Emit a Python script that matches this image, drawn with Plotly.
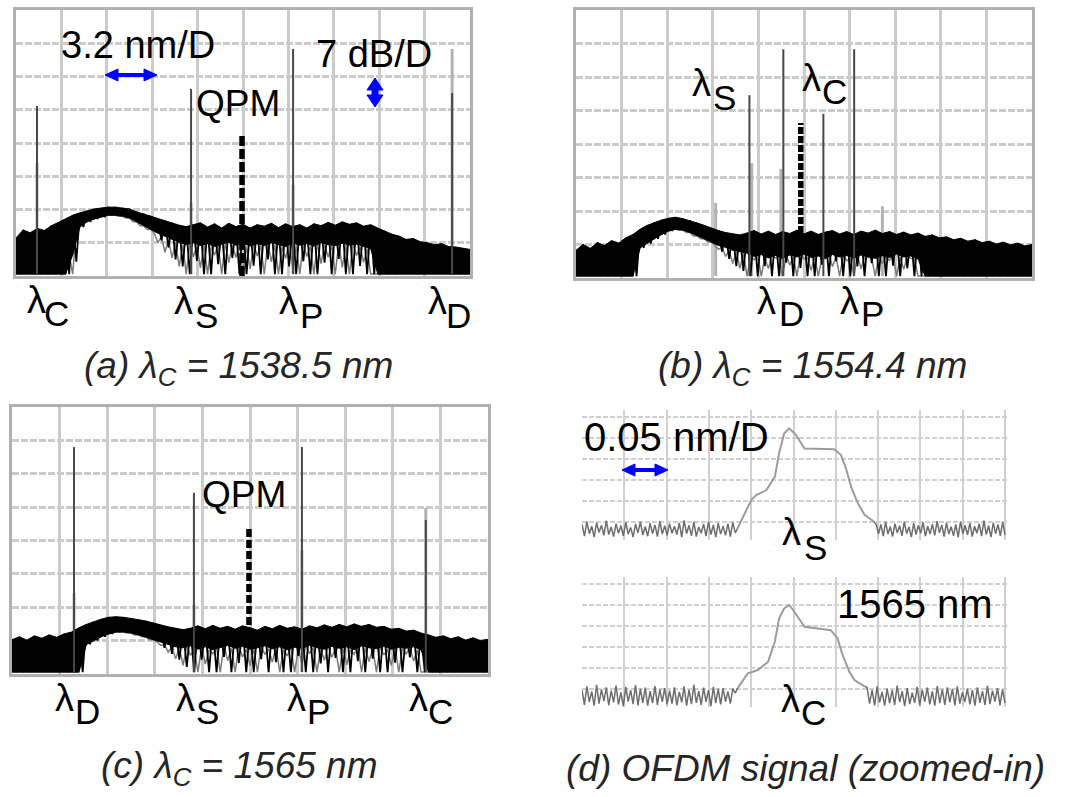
import numpy as np
import plotly.graph_objects as go

W, H = 1069, 797
FONT = "Liberation Sans, Arial, Helvetica, sans-serif"

# ---------------- wide-span OSA traces: 3.2 nm/div, 7 dB/div ----------------
WL_RANGE = [1537.0, 1569.0]
DB_RANGE = [-70.0, -14.0]
F = -69.6  # displayed noise floor (dBm)

# trace sampling positions (0.5 nm)
wl = np.linspace(1537.0, 1569.0, 65)

# (a) lambda_C = 1538.5 nm : upper edge / solid lower edge / dip depth of the ASE band
a_top = [-62.0, -60.3, -60.9, -60.0, -60.4, -59.4, -58.7, -58.0, -57.2, -56.7,
         -56.3, -55.9, -55.7, -55.5, -55.5, -55.7, -55.9, -56.5, -56.9, -57.4,
         -57.9, -58.4, -58.8, -59.3, -59.6, -59.2, -58.8, -59.7, -59.0, -59.9,
         -58.9, -59.6, -59.1, -59.9, -59.2, -59.5, -58.9, -59.8, -59.0, -59.6,
         -59.2, -59.9, -59.0, -59.4, -58.7, -59.3, -58.6, -59.1, -58.8, -59.5,
         -59.2, -59.9, -60.5, -61.2, -61.6, -62.3, -62.1, -62.8, -63.0, -63.4,
         -63.2, -63.8, -63.9, -64.2, -64.4]
a_low = [F] * 8 + [-65.5] + \
        [-59.7, -58.6, -58.0, -57.6, -57.2, -57.2, -57.4, -57.8, -58.6, -59.4,
         -60.2, -61.0, -61.7, -62.3, -62.9] + \
        [-63.4, -63.0, -63.6, -63.2, -63.8, -63.3, -62.9, -63.5, -63.1, -63.7,
         -63.2, -63.6, -63.0, -63.4, -63.8, -63.1, -63.5, -63.2, -63.7, -63.0,
         -63.4, -63.6, -63.1, -63.5, -63.3, -63.8, -64.2] + [F] * 14
a_dip = [F] * 8 + [-67.0] + \
        [-59.7, -58.6, -58.0, -57.6, -57.2, -57.2, -57.4, -57.8, -58.6, -59.4, -60.2] + \
        [-62.5, -64.0, -66.5, -68.0] + \
        [F, -66.8, F, F, -67.5, F, -66.2, F, F, -67.8, F, -66.5, F, F, -68.0,
         F, -66.9, F, F, -67.2, F, -66.4, F, F, -67.9, F, F] + [F] * 14
# second (light) sweep: trough depth at each sample
a_gray = [F] * 9 + \
         [-59.7, -58.6, -58.0, -57.6, -57.2, -57.2, -57.4, -57.8, -58.6, -59.4, -60.2] + \
         [-63.0, -65.0, -66.2, -68.0] + \
         [F, -66.0, -68.3, F, -65.6, F, -67.2, -66.1, F, -68.5, -65.8, F, -67.0, F,
          -66.3, -68.1, F, -65.9, F, -67.4, -66.0, F, -68.2, F, -65.7, -67.1, F] + [F] * 14
a_peak_wl = [1538.48, 1549.34, 1556.53, 1567.74]
a_peak_dark = [-34.2, -30.6, -22.2, -31.5]
a_peak_light = [-46.2, -54.6, -50.8, -22.2]

# (b) lambda_C = 1554.4 nm
b_top = [-64.2, -63.0, -63.8, -62.6, -63.2, -62.2, -62.7, -61.6, -60.9, -59.8,
         -59.0, -58.4, -57.9, -57.5, -57.3, -57.6, -58.0, -58.5, -59.0, -59.6,
         -60.1, -60.5, -60.8, -61.0, -60.6, -60.1, -60.8, -60.2, -60.9, -60.3,
         -60.7, -60.0, -60.8, -60.2, -60.9, -60.4, -60.1, -60.8, -60.3, -60.9,
         -60.2, -60.6, -60.0, -60.7, -60.3, -60.9, -60.4, -61.0, -60.6, -61.3,
         -61.0, -61.6, -61.4, -62.0, -61.7, -62.3, -62.0, -62.6, -62.3, -62.9,
         -62.5, -63.1, -62.7, -63.3, -63.0]
b_low = [F] * 9 + \
        [-63.7, -62.8, -61.8, -60.9, -60.2, -59.8, -60.0, -60.5, -61.2, -61.8,
         -62.5, -63.2, -63.6, -64.2, -64.5, -64.8] + \
        [-65.5, -65.1, -65.8, -65.3, -65.9, -65.2, -65.6, -65.0, -65.7, -65.4,
         -65.9, -65.1, -65.6, -65.3, -65.8, -65.2, -65.5, -65.9, -65.3, -65.7,
         -65.0, -65.6, -65.4, -66.0] + [F] * 16
b_dip = [F] * 9 + \
        [-63.7, -62.8, -61.8, -60.9, -60.2, -59.8, -60.0, -60.5, -61.2, -61.8, -62.5] + \
        [-64.5, -66.0, -67.5, -68.5, F] + \
        [F, -67.5, F, F, -66.8, F, -67.9, F, F, -67.2, F, -66.5, F, F, -67.6,
         F, -66.9, F, F, -67.4, F, -68.0, F, F] + [F] * 16
b_gray = [F] * 9 + \
         [-63.7, -62.8, -61.8, -60.9, -60.2, -59.8, -60.0, -60.5, -61.2, -61.8, -62.5] + \
         [-64.0, -65.5, -67.0, -68.0, F] + \
         [-66.2, F, -68.0, -65.8, F, -67.3, F, -66.0, -68.4, F, -65.9, -67.6, F,
          -66.4, F, -68.1, -65.7, F, -67.0, -66.3, F, -68.2, -65.9, F] + [F] * 16
b_peak_wl = [1549.17, 1551.55, 1554.36, 1556.52]
b_peak_dark = [-31.8, -22.2, -35.7, -22.2]
b_light_wl = [1546.8, 1549.33, 1551.38, 1558.5]
b_light_db = [-54.3, -46.0, -47.2, -55.0]

# (c) lambda_C = 1565 nm
c_top = [-62.8, -62.2, -62.9, -62.0, -62.5, -61.8, -62.3, -61.6, -61.2, -60.3,
         -59.6, -59.0, -58.5, -58.1, -58.0, -58.1, -58.3, -58.6, -58.9, -59.3,
         -59.8, -60.1, -60.4, -60.7, -60.4, -59.9, -60.5, -59.8, -60.4, -60.0,
         -60.6, -59.9, -60.3, -60.8, -60.0, -60.5, -59.8, -60.4, -60.1, -60.6,
         -59.9, -60.3, -59.7, -60.2, -59.6, -60.1, -59.5, -60.0, -59.6, -60.2,
         -60.0, -60.6, -60.4, -61.0, -60.8, -61.4, -61.8, -62.3, -62.0, -62.6,
         -62.2, -62.9, -62.4, -63.0, -62.7]
c_low = [F] * 10 + \
        [-63.8, -63.0, -62.2, -61.6, -61.2, -61.2, -61.4, -61.8, -62.2, -62.8,
         -63.3, -63.8, -64.3] + \
        [-64.5, -64.1, -64.8, -64.3, -64.9, -64.4, -64.0, -64.6, -64.2, -64.8,
         -64.5, -64.1, -64.7, -64.3, -64.9, -64.4, -64.6, -64.0, -64.5, -64.8,
         -64.2, -64.6, -64.3, -64.9, -64.1, -64.5, -64.7, -64.2, -64.8, -64.4,
         -64.6, -64.3, -64.9] + [F] * 9
c_dip = [F] * 10 + \
        [-63.8, -63.0, -62.2, -61.6, -61.2, -61.2, -61.4, -61.8, -62.2, -62.8] + \
        [-64.5, -65.8, -67.0, -68.5] + \
        [F, -67.0, F, F, -66.4, F, -67.7, F, F, -66.9, F, -67.5, F, F, -66.2, F,
         F, -67.8, F, -66.6, F, F, -67.3, F, -66.8, F, F, -67.6, F, -66.5, F, F] + [F] * 9
c_gray = [F] * 10 + \
         [-63.8, -63.0, -62.2, -61.6, -61.2, -61.2, -61.4, -61.8, -62.2, -62.8] + \
         [-64.0, -65.4, -66.8, -68.2] + \
         [-66.1, F, -67.9, -65.8, F, -67.2, F, -66.4, -68.3, F, -65.9, -67.5, F, -66.2,
          F, -68.0, -65.7, F, -67.1, -66.5, F, -68.1, -65.9, F, -67.4, F, -66.0, -68.2,
          F, -65.8, -67.3, F] + [F] * 9
c_peak_wl = [1541.17, 1549.23, 1556.49, 1564.82]
c_peak_dark = [-22.4, -32.0, -22.4, -37.7]
c_peak_light = [-53.0, -55.5, -44.0, -35.2]

# QPM wavelength markers: (wavelength, top, bottom)
qpm = {"a": (1552.93, -39.9, -70.0), "b": (1552.77, -37.6, -60.6), "c": (1552.93, -39.2, -59.7)}

# ---------------- zoomed OFDM spectra: 0.05 nm/div ----------------
D_DB_RANGE = [-64.3, -33.33]
ds_wl = [1549.184, 1549.200, 1549.206, 1549.218, 1549.228, 1549.233, 1549.239, 1549.245,
         1549.253, 1549.263, 1549.298, 1549.306, 1549.312, 1549.318, 1549.326, 1549.334, 1549.345]
ds_db = [-61.5, -54.8, -53.6, -52.4, -49.2, -43.6, -38.9, -37.7,
         -39.3, -42.5, -42.7, -44.0, -47.2, -51.6, -55.5, -58.3, -59.9]
ds_noise_left = [-60.6, -63.4, -59.9, -62.8, -61.0, -63.6, -60.2, -62.5, -60.8, -63.2,
                 -59.7, -63.0, -61.2, -63.5, -60.4, -62.7, -60.9, -63.3, -60.1, -62.9,
                 -61.3, -63.6, -60.5, -62.6, -60.0, -63.1, -61.1, -63.4, -60.3, -62.8,
                 -60.7, -63.5, -59.8, -62.9, -60.9, -63.2, -60.4, -62.7, -61.0, -63.0,
                 -60.2, -63.6, -59.6, -62.8, -60.8, -63.3, -60.0, -63.5, -61.2, -62.7,
                 -60.5, -63.4, -59.9, -63.0, -60.7, -63.6, -60.3, -62.9, -61.0, -63.2,
                 -60.4, -63.5, -60.1, -62.6]
ds_noise_right = [-60.6, -62.8, -60.6, -63.4, -60.0, -62.9, -61.1, -63.5, -60.4, -62.6,
                  -60.9, -63.3, -59.9, -62.8, -61.2, -63.6, -60.3, -63.0, -60.8, -62.7,
                  -60.1, -63.4, -61.0, -62.9, -60.5, -63.2, -59.8, -62.6, -60.7, -63.5,
                  -60.2, -62.9, -61.1, -63.3, -60.6, -63.6, -59.9, -62.8, -60.8, -63.1,
                  -60.3, -63.5, -61.0, -62.7, -60.4, -63.4, -59.7, -63.0, -60.9, -63.6,
                  -60.2, -62.8, -60.6, -63.3, -60.0, -63.1]
dc_wl = [1564.934, 1564.946, 1564.958, 1564.970, 1564.978, 1564.983, 1564.989, 1564.995,
         1565.001, 1565.013, 1565.044, 1565.052, 1565.058, 1565.066, 1565.072, 1565.084]
dc_db = [-59.8, -56.3, -55.5, -53.5, -48.7, -43.2, -40.8, -40.0,
         -41.6, -45.2, -46.0, -47.9, -51.9, -55.9, -57.9, -59.4]
dc_noise_left = [-60.2, -63.8, -59.4, -63.1, -60.6, -64.0, -59.0, -63.5, -60.1, -62.9,
                 -59.6, -63.9, -60.4, -63.2, -59.2, -63.7, -60.8, -64.1, -59.5, -63.0,
                 -60.3, -63.6, -59.1, -63.9, -60.0, -63.3, -59.7, -64.0, -60.5, -63.4,
                 -59.3, -63.8, -60.1, -63.1, -59.8, -63.7, -60.4, -63.5, -59.6, -63.9,
                 -60.7, -63.2, -59.4, -64.0, -60.2, -63.6, -59.0, -63.3, -60.5, -63.8,
                 -59.7, -63.1, -60.3, -64.1, -59.5, -63.4, -60.0, -63.7, -59.8, -63.0,
                 -60.6, -63.5, -59.9, -61.0]
dc_noise_right = [-59.6, -63.5, -60.2, -63.9, -59.4, -63.2, -60.7, -64.0, -59.9, -63.4,
                  -60.3, -63.8, -59.2, -63.1, -60.5, -64.1, -59.8, -63.6, -60.9, -63.3,
                  -59.5, -63.9, -60.2, -63.0, -59.7, -63.7, -60.6, -64.0, -59.3, -63.4,
                  -60.1, -63.8, -59.6, -63.2, -60.0, -63.9, -59.4, -63.5, -60.8, -63.1,
                  -59.9, -63.7, -60.3, -64.0, -59.6, -63.3, -60.5, -63.8, -59.2, -63.6,
                  -60.4, -63.0, -59.8, -63.9, -60.1, -63.4]

# ---------------- layout helpers ----------------
def px(x):
    return x / W


def py(y):
    return 1 - y / H


fig = go.Figure()

DARK = "#484848"
LIGHT = "#b2b2b2"


def refs(ax):
    return ("x", "y") if ax == 1 else (f"x{ax}", f"y{ax}")


def add_osa(ax, top, low, dip, gray, peak_x, dark_top, light_x, light_top):
    xa, ya = refs(ax)
    half = (wl[1] - wl[0]) / 2
    # second sweep (light grey): peaks and noise troughs
    lx, ly = [], []
    for p, t in zip(light_x, light_top):
        lx += [p, p, None]
        ly += [F, t, None]
    fig.add_trace(go.Scatter(x=lx, y=ly, mode="lines", line=dict(color=LIGHT, width=3),
                             xaxis=xa, yaxis=ya, hoverinfo="skip"))
    gx, gy = [], []
    for i in range(len(wl)):
        if i > 0:
            gx.append(wl[i] - half); gy.append(low[i])
        gx.append(wl[i]); gy.append(gray[i])
    fig.add_trace(go.Scatter(x=gx, y=gy, mode="lines", line=dict(color="#7c7c7c", width=1.5),
                             xaxis=xa, yaxis=ya, hoverinfo="skip"))
    # ASE band: solid part
    bx = list(wl) + list(wl[::-1])
    by = list(top) + list(low[::-1])
    fig.add_trace(go.Scatter(x=bx, y=by, mode="lines", fill="toself", fillcolor="#000000",
                             line=dict(color="#000000", width=1), xaxis=xa, yaxis=ya,
                             hoverinfo="skip"))
    # ASE band: noisy dips between samples
    zx, zy = [], []
    for i in range(len(wl)):
        zx.append(wl[i]); zy.append(top[i])
        if i < len(wl) - 1:
            zx.append(wl[i] + half); zy.append(dip[i])
    fig.add_trace(go.Scatter(x=zx, y=zy, mode="lines", line=dict(color="#000000", width=1.8),
                             xaxis=xa, yaxis=ya, hoverinfo="skip"))
    # first sweep (dark) peaks
    dx, dy = [], []
    for p, t in zip(peak_x, dark_top):
        dx += [p, p, None]
        dy += [F, t, None]
    fig.add_trace(go.Scatter(x=dx, y=dy, mode="lines", line=dict(color=DARK, width=2),
                             xaxis=xa, yaxis=ya, hoverinfo="skip"))


add_osa(1, a_top, a_low, a_dip, a_gray, a_peak_wl, a_peak_dark, a_peak_wl, a_peak_light)
add_osa(2, b_top, b_low, b_dip, b_gray, b_peak_wl, b_peak_dark, b_light_wl, b_light_db)
add_osa(3, c_top, c_low, c_dip, c_gray, c_peak_wl, c_peak_dark, c_peak_wl, c_peak_light)

# QPM markers
for ax, key, dash in [(1, "a", "10px,3px"), (2, "b", "7px,2px"), (3, "c", "8px,3px")]:
    xa, ya = refs(ax)
    w0, t0, b0 = qpm[key]
    fig.add_trace(go.Scatter(x=[w0, w0], y=[b0, t0], mode="lines",
                             line=dict(color="#000000", width=5.5, dash=dash),
                             xaxis=xa, yaxis=ya, hoverinfo="skip"))


def zoom_trace(ax, sig_x, sig_y, nl, nr, x0, x1):
    left_x = list(np.linspace(x0, sig_x[0], len(nl) + 1))
    right_x = list(np.linspace(sig_x[-1], x1, len(nr) + 1))
    noise_col = dict(color="#6e6e6e", width=1.5)
    fig.add_trace(go.Scatter(x=left_x, y=list(nl) + [sig_y[0]], mode="lines", line=noise_col,
                             xaxis=f"x{ax}", yaxis=f"y{ax}", hoverinfo="skip"))
    fig.add_trace(go.Scatter(x=right_x, y=[sig_y[-1]] + list(nr), mode="lines", line=noise_col,
                             xaxis=f"x{ax}", yaxis=f"y{ax}", hoverinfo="skip"))
    fig.add_trace(go.Scatter(x=sig_x, y=sig_y, mode="lines",
                             line=dict(color="#9c9c9c", width=2),
                             xaxis=f"x{ax}", yaxis=f"y{ax}", hoverinfo="skip"))


zoom_trace(4, ds_wl, ds_db, ds_noise_left, ds_noise_right, 1549.0, 1549.5)
zoom_trace(5, dc_wl, dc_db, dc_noise_left, dc_noise_right, 1564.75, 1565.25)

GRID = "#cbcbcb"
FRAME = "#b0b0b0"


def osa_axes(n, x0, x1, y0, y1):
    sx = "" if n == 1 else str(n)
    xa = dict(domain=[px(x0), px(x1)], range=WL_RANGE, tick0=1537.0, dtick=3.2,
              showgrid=True, gridcolor=GRID, gridwidth=2.5, showline=True, mirror=True,
              linecolor=FRAME, linewidth=3, zeroline=False, showticklabels=False,
              ticks="", anchor="y" + sx, fixedrange=True)
    ya = dict(domain=[py(y1), py(y0)], range=DB_RANGE, tick0=-70, dtick=7,
              showgrid=True, gridcolor=GRID, gridwidth=2.5, griddash="7px,2px",
              showline=True, mirror=True, linecolor=FRAME, linewidth=3, zeroline=False,
              showticklabels=False, ticks="", anchor="x" + sx, fixedrange=True)
    return {"xaxis" + sx: xa, "yaxis" + sx: ya}


def zoom_axes(n, x0, x1, y0, y1, wl0):
    span = 0.5 * (x1 - x0) / 423.0
    xa = dict(domain=[px(x0), px(x1)], range=[wl0, wl0 + span], tickmode="array",
              tickvals=[wl0 + 0.05 * k for k in range(1, 11)],
              showgrid=True, gridcolor="#d0d0d0", gridwidth=2, showline=False,
              zeroline=False, showticklabels=False, ticks="", anchor=f"y{n}", fixedrange=True)
    ya = dict(domain=[py(y1), py(y0)], range=D_DB_RANGE, tick0=-35, dtick=5,
              showgrid=True, gridcolor="#d0d0d0", gridwidth=2, griddash="5px,2px",
              showline=False, zeroline=False, showticklabels=False, ticks="",
              anchor=f"x{n}", fixedrange=True)
    return {f"xaxis{n}": xa, f"yaxis{n}": ya}


layout = dict(width=W, height=H, margin=dict(l=0, r=0, t=0, b=0), autosize=False,
              paper_bgcolor="white", plot_bgcolor="white", showlegend=False,
              font=dict(family=FONT, color="#000000"))
layout.update(osa_axes(1, 16, 470, 10, 276))
layout.update(osa_axes(2, 576, 1032, 10, 278))
layout.update(osa_axes(3, 12, 488, 407, 674))
layout.update(zoom_axes(4, 582, 1007, 410, 540, 1549.0))
layout.update(zoom_axes(5, 582, 1007, 577, 707, 1564.75))

ann = []


def text(t, x, y, size=38, color="#000000", xanchor="center"):
    ann.append(dict(text=t, x=px(x), y=py(y), xref="paper", yref="paper", showarrow=False,
                    xanchor=xanchor, yanchor="middle", font=dict(size=size, color=color, family=FONT)))


def lam(sub, xl, yl, xs, ys):
    text("λ", xl, yl, size=38)
    text(sub, xs, ys, size=35)


BLUE = "#0000ff"


def outline(pts):
    path = "M " + " L ".join(f"{px(a):.5f},{py(b):.5f}" for a, b in pts) + " Z"
    return dict(type="path", path=path, xref="paper", yref="paper",
                fillcolor=BLUE, line=dict(color=BLUE, width=1))


def h_arrow(x0, x1, yc, hw=6, hl=13, sw=1.5):
    # horizontal double-headed scale arrow
    return outline([(x0, yc), (x0 + hl, yc - hw), (x0 + hl, yc - sw), (x1 - hl, yc - sw),
                    (x1 - hl, yc - hw), (x1, yc), (x1 - hl, yc + hw), (x1 - hl, yc + sw),
                    (x0 + hl, yc + sw), (x0 + hl, yc + hw)])


def v_arrow(xc, y0, y1, hw=8, hl=12, sw=3):
    # short vertical double-headed scale arrow
    return outline([(xc, y0), (xc + hw, y0 + hl), (xc + sw, y0 + hl), (xc + sw, y1 - hl),
                    (xc + hw, y1 - hl), (xc, y1), (xc - hw, y1 - hl), (xc - sw, y1 - hl),
                    (xc - sw, y0 + hl), (xc - hw, y0 + hl)])


# (a)
text("3.2 nm/D", 138, 45)
text("7 dB/D", 374, 54)
text("QPM", 238, 104, size=37)
lam("C", 36, 300, 56.5, 313)
lam("S", 183.5, 301, 206, 315)
lam("P", 288.5, 301, 311, 315)
lam("D", 437.5, 301, 458, 315)
# (b)
lam("S", 701.5, 83, 724, 97.5)
lam("C", 811.5, 77.5, 834, 91.5)
lam("D", 766, 301.5, 791, 314)
lam("P", 849, 301, 872, 314)
# (c)
text("QPM", 244, 495, size=37)
lam("D", 64, 698, 87, 711)
lam("S", 185, 698, 207, 711)
lam("P", 296, 698, 318, 711)
lam("C", 418, 698, 440, 711)
# (d)
text("0.05 nm/D", 582, 437, size=40, xanchor="left")
text("1565 nm", 915, 604, size=40)
lam("S", 791, 532, 815, 547)
lam("C", 790, 699, 813, 712)

# captions
CAP = "#262626"
text("<i>(a) λ<sub>C</sub> = 1538.5 nm</i>", 238, 368, size=37, color=CAP)
text("<i>(b) λ<sub>C</sub> = 1554.4 nm</i>", 812, 368, size=37, color=CAP)
text("<i>(c) λ<sub>C</sub> = 1565 nm</i>", 239, 768, size=37, color=CAP)
text("<i>(d) OFDM signal (zoomed-in)</i>", 805, 768, size=37, color=CAP)

layout["annotations"] = ann
layout["shapes"] = [h_arrow(105, 157, 75), v_arrow(375, 78, 107), h_arrow(622, 668, 470)]
fig.update_layout(**layout)
fig.write_html("out.html")
